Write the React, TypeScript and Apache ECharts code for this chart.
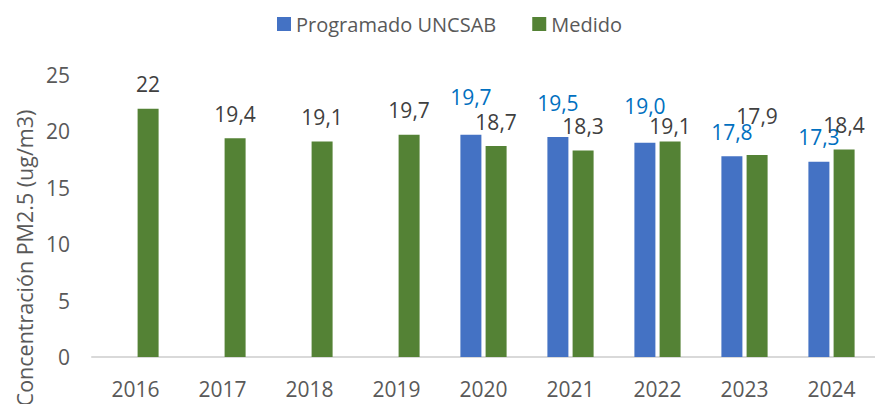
import React, { useEffect, useRef } from "react";
import * as echarts from "echarts";

const years = ["2016", "2017", "2018", "2019", "2020", "2021", "2022", "2023", "2024"];
const programado: (number | null)[] = [null, null, null, null, 19.7, 19.5, 19.0, 17.8, 17.3];
const medido: number[] = [22, 19.4, 19.1, 19.7, 18.7, 18.3, 19.1, 17.9, 18.4];
const programadoLabelDy: number[] = [0, 0, 0, 0, -13, -10, -12.5, 0, 0];
const medidoLabelDy: number[] = [0, 0, 0, 0, 0, 0, 8.5, -14.5, 0];
const yTicks = { min: 0, max: 25, interval: 5 };

const FONT = "'Open Sans', 'Noto Sans', sans-serif";

export default function App() {
  const ref = useRef<HTMLDivElement>(null);
  useEffect(() => {
    if (!ref.current) return;
    const chart = echarts.init(ref.current, null, { renderer: "svg" });
    const fmtBlue = (v: number) => v.toFixed(1).replace(".", ",");
    const fmtGreen = (v: number) => (Number.isInteger(v) ? String(v) : v.toFixed(1).replace(".", ","));
    chart.setOption({
      animation: false,
      textStyle: { fontFamily: FONT },
      legend: {
        left: 272,
        top: 9,
        itemWidth: 14,
        itemHeight: 14,
        itemGap: 36,
        icon: "rect",
        textStyle: { fontSize: 20, color: "#595959", fontFamily: FONT },
        data: ["Programado UNCSAB", "Medido"],
      },
      grid: { left: 92, right: -11, top: 75, bottom: 47, containLabel: false },
      xAxis: {
        type: "category",
        data: years,
        axisLine: { show: true, lineStyle: { color: "#D9D9D9", width: 2 } },
        axisTick: { show: false },
        axisLabel: { fontSize: 21, color: "#595959", fontFamily: FONT, margin: 21 },
      },
      yAxis: {
        type: "value",
        min: yTicks.min,
        max: yTicks.max,
        interval: yTicks.interval,
        axisLine: { show: false },
        axisTick: { show: false },
        splitLine: { show: false },
        axisLabel: { fontSize: 21, color: "#595959", fontFamily: FONT, margin: 22 },
      },
      graphic: [
        {
          type: "text",
          x: 24,
          y: 258,
          rotation: Math.PI / 2,
          style: {
            text: "Concentración PM2.5 (ug/m3)",
            fontSize: 21.5,
            fontFamily: FONT,
            fill: "#595959",
            textAlign: "center",
            textVerticalAlign: "middle",
          },
        },
      ],
      series: [
        {
          name: "Programado UNCSAB",
          type: "bar",
          barWidth: 21,
          barGap: "20%",
          itemStyle: { color: "#4472C4" },
          label: {
            show: true,
            position: "top",
            distance: 14,
            fontSize: 21,
            color: "#0070C0",
            fontFamily: FONT,
            formatter: (p: any) => fmtBlue(p.value),
          },
          data: programado.map((v, i) =>
            v == null ? null : { value: v, label: { offset: [0, programadoLabelDy[i]] } }
          ),
        },
        {
          name: "Medido",
          type: "bar",
          barWidth: 21,
          barGap: "20%",
          itemStyle: { color: "#548235" },
          label: {
            show: true,
            position: "top",
            distance: 14,
            fontSize: 21,
            color: "#404040",
            fontFamily: FONT,
            formatter: (p: any) => fmtGreen(p.value),
          },
          data: medido.map((v, i) => ({ value: v, label: { offset: [0, medidoLabelDy[i]] } })),
        },
      ],
    });
    return () => chart.dispose();
  }, []);
  return (
    <div
      ref={ref}
      style={{ position: "absolute", left: 0, top: 0, width: 875, height: 404, background: "#fff" }}
    />
  );
}
